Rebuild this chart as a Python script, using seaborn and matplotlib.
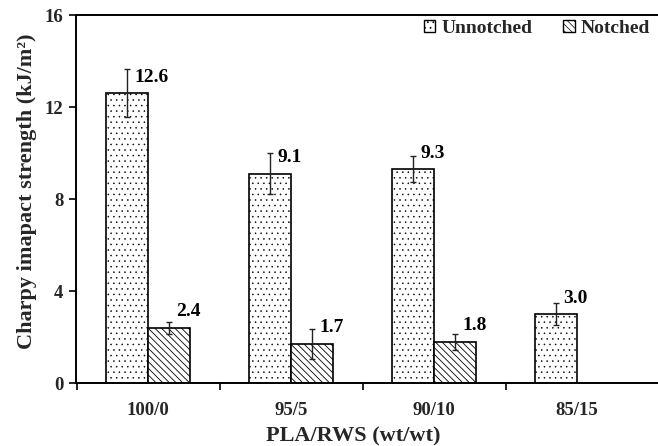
import matplotlib
matplotlib.use("Agg")
import matplotlib.pyplot as plt
from matplotlib.patches import Patch
from matplotlib.ticker import FixedLocator
import numpy as np
import pandas as pd
import seaborn as sns

# Charpy impact strength of PLA/RWS blends
blends = ["100/0", "95/5", "90/10", "85/15"]
unnotched = [12.6, 9.1, 9.3, 3.0]
unnotched_err = [1.05, 0.9, 0.57, 0.49]
notched = [2.4, 1.7, 1.8, np.nan]
notched_err = [0.25, 0.65, 0.35, np.nan]
series = ["Unnotched", "Notched"]
hatches = {"Unnotched": "...", "Notched": "\\\\\\\\\\"}
hatch_lw = {"Unnotched": 0.35, "Notched": 0.6}

sns.set_theme(style="white")
plt.rcParams["font.family"] = ["Liberation Serif", "DejaVu Serif"]
plt.rcParams["font.weight"] = "bold"
plt.rcParams["hatch.linewidth"] = 0.5
plt.rcParams["hatch.color"] = "black"

rows = []
for b, u, ue, n, ne in zip(blends, unnotched, unnotched_err, notched, notched_err):
    rows.append({"blend": b, "type": "Unnotched", "value": u, "err": ue})
    rows.append({"blend": b, "type": "Notched", "value": n, "err": ne})
df = pd.DataFrame(rows).dropna()

fig = plt.figure(figsize=(6.58, 4.46), dpi=100)
ax = fig.add_axes([76 / 658, 63 / 446, 582 / 658, 368 / 446])

sns.barplot(data=df, x="blend", y="value", hue="type", order=blends,
            hue_order=series, palette={"Unnotched": "white", "Notched": "white"},
            edgecolor="black", linewidth=1.2, width=0.59, errorbar=None,
            legend=False, ax=ax)


def style_patch(p, level):
    p.set_hatch(hatches[level])
    p.set_edgecolor("black")
    if hasattr(p, "set_hatch_linewidth"):
        p.set_hatch_linewidth(hatch_lw[level])


for level, container in zip(series, ax.containers):
    sub = df[df["type"] == level].set_index("blend")
    for bar in container:
        style_patch(bar, level)
        cx = bar.get_x() + bar.get_width() / 2
        blend = blends[int(round(cx))]
        val = sub.loc[blend, "value"]
        err = sub.loc[blend, "err"]
        ax.errorbar(cx, val, yerr=err, fmt="none", ecolor="#222222",
                    elinewidth=1.0, capsize=2.3, capthick=1.0, zorder=4)
        ax.annotate(f"{val:.1f}", xy=(cx, val), xytext=(5.4, 11.5),
                    textcoords="offset points", ha="left", va="center",
                    fontsize=14, fontweight="bold", color="black")

ax.set_xlim(-0.5035, -0.5035 + 582 / 143)
ax.set_ylim(0, 16)
ax.set_yticks([0, 4, 8, 12, 16])
ax.set_yticklabels(["0", "4", "8", "12", "16"])
ax.xaxis.set_minor_locator(FixedLocator([-0.5, 0.5, 1.5, 2.5]))
ax.tick_params(axis="x", which="major", length=0, pad=14, labelsize=13.5)
ax.tick_params(axis="x", which="minor", bottom=True, direction="out",
               length=5, width=1.2, color="black")
ax.tick_params(axis="y", left=True, direction="out", length=5, width=1.2,
               color="black", labelsize=13.5, pad=4)
for lab in ax.get_xticklabels() + ax.get_yticklabels():
    lab.set_fontweight("bold")

for side in ["left", "bottom", "top"]:
    ax.spines[side].set_visible(True)
    ax.spines[side].set_color("black")
    ax.spines[side].set_linewidth(1.4)
ax.spines["right"].set_visible(False)

ax.set_xlabel("PLA/RWS (wt/wt)", fontsize=16, fontweight="bold")
ax.set_ylabel("Charpy imapact strength (kJ/m²)", fontsize=16, fontweight="bold")
ax.xaxis.set_label_coords((353 - 76) / 582, -43 / 368)
ax.yaxis.set_label_coords(-39 / 582, 0.52)

handles = []
for s in series:
    h = Patch(facecolor="white", edgecolor="black", hatch=hatches[s],
              linewidth=1.0, label=s)
    handles.append(h)
leg = ax.legend(handles=handles, loc="upper right", bbox_to_anchor=(0.995, 1.0),
                ncol=2, frameon=False, handlelength=0.6, handleheight=0.6,
                handletextpad=0.3, columnspacing=1.6, borderaxespad=0.0,
                borderpad=0.25,
                prop={"family": "Liberation Serif", "weight": "bold", "size": 14})
for h in leg.legend_handles:
    if hasattr(h, "set_hatch_linewidth"):
        h.set_hatch_linewidth(0.5)

fig.savefig("out.png", dpi=100, facecolor="white")
